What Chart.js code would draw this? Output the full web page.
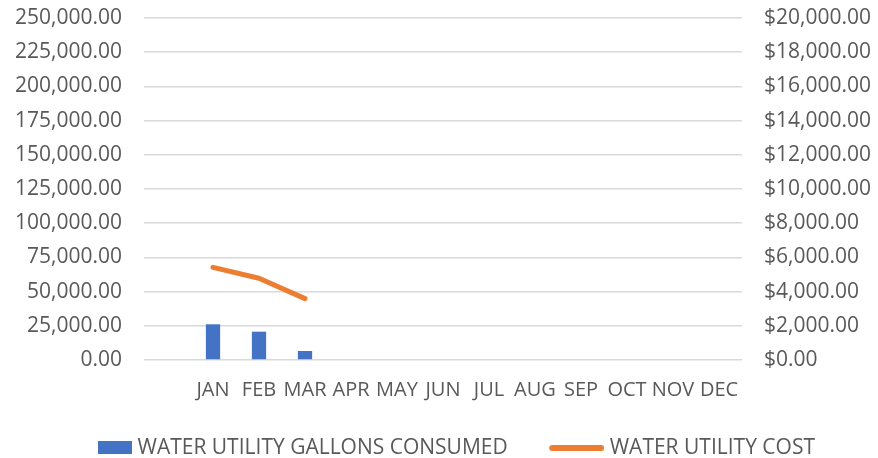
<!DOCTYPE html>
<html>
<head>
<meta charset="utf-8">
<script src="https://cdn.jsdelivr.net/npm/chart.js@4"></script>
<style>
  html, body { margin: 0; padding: 0; background: #fff; }
  #wrap { width: 878px; height: 458px; }
</style>
</head>
<body>
<div id="wrap"><canvas id="chartCanvas" width="878" height="458"></canvas></div>
<script>
// first category is blank in the original sheet
const months = ['', 'JAN', 'FEB', 'MAR', 'APR', 'MAY', 'JUN', 'JUL', 'AUG', 'SEP', 'OCT', 'NOV', 'DEC'];
const gallons = [null, 26100, 20700, 6600, null, null, null, null, null, null, null, null, null];
const cost = [null, 5420, 4780, 3590, null, null, null, null, null, null, null, null, null];

const gallonsLabel = 'WATER UTILITY GALLONS CONSUMED';
const costLabel = 'WATER UTILITY COST';

const textColor = '#595959';
const barColor = '#4472C4';
const lineColor = '#ED7D31';
const fontFam = '"Open Sans", sans-serif';

const numFmt = new Intl.NumberFormat('en-US', { minimumFractionDigits: 2, maximumFractionDigits: 2 });

// legend swatches, drawn flush right so the text sits close like in Excel
function makeSwatch(kind) {
    let c = document.createElement('canvas');
    c.width = 60;
    c.height = 14;
    let ctx = c.getContext('2d');
    if (kind == 'bar') {
        ctx.fillStyle = barColor;
        ctx.fillRect(26, 0, 34, 13);
    } else {
        ctx.strokeStyle = lineColor;
        ctx.lineWidth = 6;
        ctx.lineCap = 'round';
        ctx.beginPath();
        ctx.moveTo(8, 7);
        ctx.lineTo(57, 7);
        ctx.stroke();
    }
    return c;
}

const data = {
    labels: months,
    datasets: [
        {
            type: 'bar',
            label: gallonsLabel,
            data: gallons,
            backgroundColor: barColor,
            borderWidth: 0,
            yAxisID: 'y',
            categoryPercentage: 1,
            barPercentage: 0.31,
            pointStyle: makeSwatch('bar')
        },
        {
            type: 'line',
            label: costLabel,
            data: cost,
            borderColor: lineColor,
            backgroundColor: lineColor,
            borderWidth: 5,
            borderCapStyle: 'round',
            borderJoinStyle: 'round',
            pointRadius: 0,
            pointHoverRadius: 0,
            pointStyle: makeSwatch('line'),
            tension: 0,
            yAxisID: 'y1'
        }
    ]
};

const config = {
    data: data,
    options: {
        responsive: false,
        animation: false,
        layout: { padding: { top: 18, left: 14, right: 0, bottom: -10.5 } },
        plugins: {
            tooltip: { enabled: false },
            legend: {
                position: 'bottom',
                // empty title with negative padding just pulls the row up a bit
                title: { display: true, text: '', font: { size: 1 }, padding: { top: -7.2, bottom: 0 } },
                labels: {
                    usePointStyle: true,
                    pointStyleWidth: 50,
                    boxHeight: 13,
                    padding: 41.5,
                    color: textColor,
                    font: { family: fontFam, size: 21 }
                }
            }
        },
        scales: {
            x: {
                grid: { display: false, drawTicks: false },
                border: { display: false },
                ticks: {
                    color: textColor,
                    autoSkip: false,
                    maxRotation: 0,
                    padding: 18,
                    font: { family: fontFam, size: 20 }
                },
                afterFit: s => { s.height = 42; }
            },
            y: {
                position: 'left',
                min: 0,
                max: 250000,
                grid: { color: '#d9d9d9', lineWidth: 1.5, drawTicks: false },
                border: { display: false },
                ticks: {
                    stepSize: 25000,
                    color: textColor,
                    padding: 22,
                    font: { family: fontFam, size: 21 },
                    callback: v => numFmt.format(v)
                },
                afterFit: s => { s.width = 130; s.paddingTop = 0; s.paddingBottom = 0; }
            },
            y1: {
                position: 'right',
                min: 0,
                max: 20000,
                grid: { display: false, drawTicks: false },
                border: { display: false },
                ticks: {
                    stepSize: 2000,
                    color: textColor,
                    padding: 22,
                    font: { family: fontFam, size: 21 },
                    callback: v => '$' + numFmt.format(v)
                },
                afterFit: s => { s.width = 136; s.paddingTop = 0; s.paddingBottom = 0; }
            }
        }
    }
};

const waterChart = new Chart(document.querySelector('#chartCanvas'), config);
</script>
</body>
</html>
